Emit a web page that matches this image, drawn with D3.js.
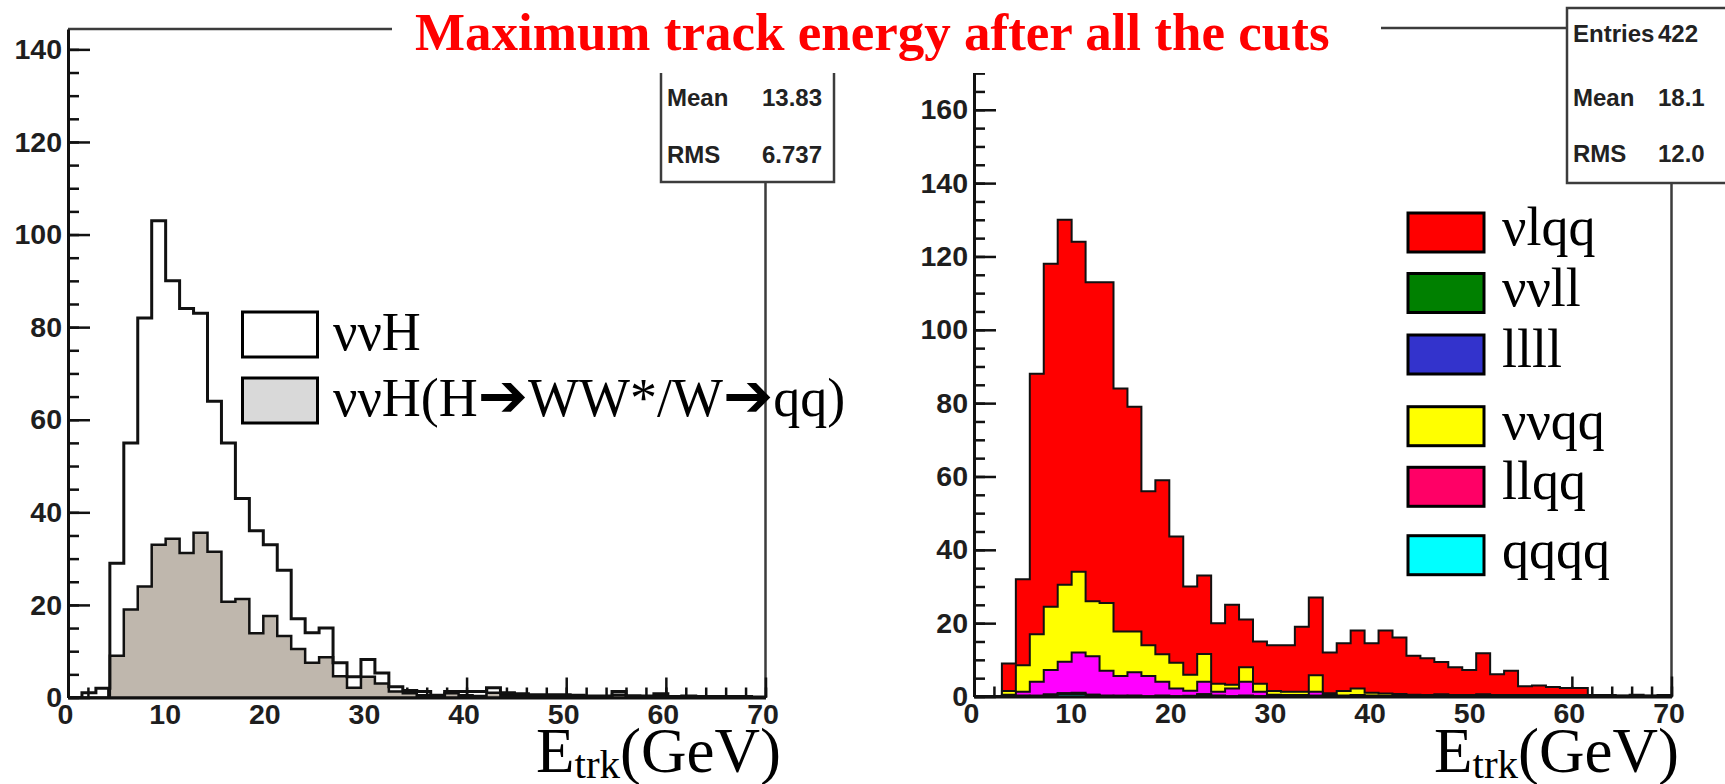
<!DOCTYPE html>
<html>
<head>
<meta charset="utf-8">
<script src="https://cdn.jsdelivr.net/npm/d3@7"></script>
<style>
  body { margin: 0; background: #fff; }
  svg { display: block; }
  .tick text { font-family: 'Liberation Sans', Arial, sans-serif; font-weight: bold; font-size: 28.5px; fill: #1e1e1e; }
  .stat { font-family: 'Liberation Sans', Arial, sans-serif; font-weight: bold; font-size: 24px; fill: #222; }
  .leg { font-family: 'Liberation Serif', 'Times New Roman', serif; font-size: 54px; fill: #000; }
</style>
</head>
<body>
<div id="chart"></div>
<script>
// histogram binning: 50 bins between 0 and 70 GeV
let xMin = 0
let xMax = 70
let nBins = 50
let edges = d3.range(nBins + 1).map(i => xMin + i * (xMax - xMin) / nBins)

// left panel: nu nu H, all and H->WW*/W->qq
let vvHAll = [0, 1, 2, 29, 55, 82, 103, 90, 84, 83,
  64, 55, 43, 36, 33, 27.5, 17, 14, 15, 7.5,
  4.5, 8.2, 5.3, 2.3, 1.5, 1.3, 0.5, 1.3, 1.3, 1.3,
  2.1, 1, 0.8, 0.6, 0.6, 0.6, 0.5, 0.3, 0.3, 1.3,
  0.4, 0.3, 0.8, 0.2, 0.3, 0.2, 0.2, 0.2, 0.2, 0.1]
let vvHWW = [0, 0, 0, 9, 19, 24, 33, 34.3, 31.2, 35.6,
  31.5, 20.7, 21.3, 13.9, 17.6, 13.3, 10.5, 7.5, 8.7, 4.6,
  2.1, 4.5, 3, 1.3, 0.9, 0.5, 0.2, 0.9, 0.5, 0.3,
  1, 0.5, 0.3, 0.2, 0.2, 0.2, 0.1, 0.1, 0.1, 0.6,
  0.1, 0.1, 0.3, 0.1, 0.1, 0, 0.1, 0, 0.1, 0]

// right panel: backgrounds, stacked
let qqqq = [0, 0, 0, 0, 0, 0.3, 0.6, 0.6, 0.3, 0,
  0, 0, 0, 0, 0, 0, 0.3, 0, 0, 0,
  0, 0, 0, 0, 0, 0, 0, 0, 0, 0,
  0, 0, 0, 0, 0, 0, 0, 0, 0, 0,
  0, 0, 0, 0, 0, 0, 0, 0, 0, 0]
let llll = [0, 0, 0, 0, 0.2, 0, 0.3, 0, 0.2, 0,
  0.2, 0, 0, 0, 0, 0, 0.3, 0, 0, 0,
  0, 0, 0, 0, 0.2, 0, 0, 0, 0, 0,
  0, 0, 0, 0, 0, 0, 0, 0, 0, 0,
  0, 0, 0, 0, 0, 0, 0, 0, 0, 0]
let vvll = [0, 0, 0, 0.3, 0, 0.3, 0, 0.4, 0, 0.3,
  0, 0.3, 0, 0.3, 0, 0.2, 0, 0.3, 0, 0.3,
  0, 0.2, 0, 0.2, 0, 0.3, 0, 0.3, 0, 0,
  0.2, 0, 0, 0.2, 0, 0, 0.2, 0, 0, 0,
  0, 0, 0, 0, 0, 0, 0, 0, 0, 0]
let llqq = [0, 0, 0.5, 1, 3.8, 6.6, 8.6, 11, 10.5, 6.7,
  5.4, 6.3, 5.6, 3.7, 2.2, 1.4, 3.4, 1, 2.2, 3.7,
  1.3, 0.3, 0.4, 0.2, 1.1, 0.1, 0.3, 0.1, 0.3, 0.2,
  0.1, 0.1, 0.1, 0.1, 0.1, 0.1, 0.1, 0.1, 0.1, 0.1,
  0.1, 0.1, 0.1, 0.1, 0, 0, 0, 0, 0, 0]
let vvqq = [0, 0, 1, 7.2, 13, 17.3, 21, 22, 15, 18.5,
  12.1, 11.1, 8.4, 7.5, 7, 4.3, 7.6, 2.2, 1, 4,
  2.2, 1, 0.9, 0.9, 4.5, 0.5, 1.2, 1.8, 0.7, 0.6,
  0.4, 0.4, 0.3, 0.3, 0.3, 0.3, 0.3, 0.3, 0.3, 0.3,
  0.3, 0.3, 0.3, 0.3, 0.2, 0.2, 0.2, 0.2, 0.2, 0.2]
let vlqq = [0, 0, 7.5, 23.5, 71, 93.5, 99.5, 90, 87, 87.5,
  66.3, 61.3, 42, 47.5, 34.4, 24.1, 21.4, 16.5, 21.8, 13,
  11.5, 12.5, 12.7, 17.7, 21.2, 11.1, 13, 15.8, 13.5, 17.2,
  15.4, 10.6, 10, 8.8, 7.6, 6.8, 11.2, 5.7, 6.6, 2.4,
  2.6, 2.2, 1.9, 1.9, 0.2, 0.2, 0.1, 0.3, 0.1, 0.2]

let stackKeys = ['qqqq', 'llll', 'vvll', 'llqq', 'vvqq', 'vlqq']
let stackSeries = { qqqq, llll, vvll, llqq, vvqq, vlqq }
let stackColors = { qqqq: '#00ffff', llll: '#3333cc', vvll: '#007f00', llqq: '#ff00ff', vvqq: '#ffff00', vlqq: '#ff0000' }

let xTicks = [0, 10, 20, 30, 40, 50, 60, 70]
let yTicksLeft = [0, 20, 40, 60, 80, 100, 120, 140]
let yTicksRight = [0, 20, 40, 60, 80, 100, 120, 140, 160]

// legend labels, split around the arrows so the arrows can be drawn larger
let legendLeft = [['ννH'], ['ννH(H', '➔', 'WW*/W', '➔', 'qq)']]
let legendRight = [
  { label: 'νlqq', color: '#ff0000' },
  { label: 'ννll', color: '#008000' },
  { label: 'llll', color: '#3333cc' },
  { label: 'ννqq', color: '#ffff00' },
  { label: 'llqq', color: '#ff0066' },
  { label: 'qqqq', color: '#00ffff' }
]
let statsLeft = [['Mean', '13.83'], ['RMS', '6.737']]
let statsRight = [['Entries', '422'], ['Mean', '18.1'], ['RMS', '12.0']]

let width = 1725
let height = 784

let svg = d3.select('#chart')
  .append('svg')
  .attr('width', width)
  .attr('height', height)

let xL = d3.scaleLinear().domain([0, 70]).range([68, 765.5])
let yL = d3.scaleLinear().domain([0, 144.4]).range([697.5, 29])
let xR = d3.scaleLinear().domain([0, 70]).range([974, 1671.5])
let yR = d3.scaleLinear().domain([0, 182.3]).range([696.5, 28])

// step outline of a histogram, starting and ending on the baseline
function stepPath(values, x, y) {
  let pts = [[x(edges[0]), y(0)]]
  values.forEach((v, i) => {
    pts.push([x(edges[i]), y(v)])
    pts.push([x(edges[i + 1]), y(v)])
  })
  pts.push([x(edges[nBins]), y(0)])
  return d3.line()(pts)
}

function drawFrame(x, y) {
  svg.append('path')
    .attr('d', `M${x.range()[0]},${y.range()[1]}H${x.range()[1]}V${y.range()[0]}`)
    .attr('fill', 'none')
    .attr('stroke', '#3c3c3c')
    .attr('stroke-width', 2.5)
}

function drawAxes(x, y, yTicks) {
  let gy = svg.append('g').attr('transform', `translate(${x(0)},0)`)
  gy.call(d3.axisLeft(y).tickValues(yTicks).tickSize(-22).tickSizeOuter(0).tickPadding(6))
  gy.append('g').call(d3.axisLeft(y).tickValues(d3.range(0, y.domain()[1], 5)).tickSize(-11).tickFormat(''))
    .select('.domain').remove()

  let gx = svg.append('g').attr('transform', `translate(0,${y(0)})`)
  gx.call(d3.axisBottom(x).tickValues(xTicks).tickSize(-20).tickSizeOuter(0).tickPadding(6))
  gx.append('g').call(d3.axisBottom(x).tickValues(d3.range(0, 71, 2)).tickSize(-10).tickFormat(''))
    .select('.domain').remove()

  svg.selectAll('.domain').attr('stroke', '#111').attr('stroke-width', 3)
  svg.selectAll('.tick line').attr('stroke', '#111').attr('stroke-width', 2.5)
  gx.selectAll('.tick text').attr('dx', -3)
}

// ---------- left panel ----------
drawFrame(xL, yL)
drawAxes(xL, yL, yTicksLeft)

svg.append('path')
  .attr('d', stepPath(vvHWW, xL, yL) + 'Z')
  .attr('fill', '#bfb7ad')
  .attr('stroke', '#111')
  .attr('stroke-width', 2.5)

svg.append('path')
  .attr('d', stepPath(vvHAll, xL, yL))
  .attr('fill', 'none')
  .attr('stroke', '#111')
  .attr('stroke-width', 3)

// ---------- right panel ----------
drawFrame(xR, yR)
drawAxes(xR, yR, yTicksRight)

let rows = d3.range(nBins).map(i => {
  let row = {}
  stackKeys.forEach(k => { row[k] = stackSeries[k][i] })
  return row
})
let stacked = d3.stack().keys(stackKeys)(rows)

// like THStack: cumulative histograms drawn from the top one down
stacked.slice().reverse().forEach(layer => {
  svg.append('path')
    .attr('d', stepPath(layer.map(d => d[1]), xR, yR) + 'Z')
    .attr('fill', stackColors[layer.key])
    .attr('stroke', '#111')
    .attr('stroke-width', 2)
})

// ---------- legends ----------
legendLeft.forEach((parts, i) => {
  let top = [312, 378][i]
  svg.append('rect')
    .attr('x', 242.5).attr('y', top)
    .attr('width', 75).attr('height', 45)
    .attr('fill', i === 0 ? '#fff' : '#d9d9d9')
    .attr('stroke', '#000').attr('stroke-width', 3)
  let t = svg.append('text')
    .attr('class', 'leg')
    .attr('x', 333).attr('y', top + 38)
  parts.forEach(p => {
    let s = t.append('tspan').text(p)
    if (p === '➔') s.attr('font-size', 60).attr('font-family', "'DejaVu Sans', sans-serif")
  })
})

let rightTops = [213, 273.5, 335, 406.7, 467.3, 535.7]
legendRight.forEach((d, i) => {
  svg.append('rect')
    .attr('x', 1408).attr('y', rightTops[i])
    .attr('width', 76).attr('height', 39)
    .attr('fill', d.color)
    .attr('stroke', '#000').attr('stroke-width', 3)
  svg.append('text')
    .attr('class', 'leg')
    .attr('x', 1502).attr('y', rightTops[i] + 32)
    .text(d.label)
})

// ---------- x titles ----------
function xTitle(x) {
  let t = svg.append('text')
    .attr('x', x).attr('y', 772)
    .attr('font-family', "'Liberation Serif', 'Times New Roman', serif")
    .attr('font-size', 63)
  t.append('tspan').text('E')
  t.append('tspan').attr('font-size', 41).attr('dy', 6).text('trk')
  t.append('tspan').attr('dy', -6).text('(GeV)')
}
xTitle(536)
xTitle(1434)

// ---------- stats boxes ----------
function statsBox(x0, y0, x1, y1, rows, valueX, anchor, lineYs) {
  svg.append('rect')
    .attr('x', x0).attr('y', y0)
    .attr('width', x1 - x0).attr('height', y1 - y0)
    .attr('fill', '#fff')
    .attr('stroke', '#3c3c3c').attr('stroke-width', 2.5)
  rows.forEach((r, i) => {
    svg.append('text').attr('class', 'stat')
      .attr('x', x0 + 6).attr('y', lineYs[i]).text(r[0])
    svg.append('text').attr('class', 'stat')
      .attr('x', valueX).attr('y', lineYs[i])
      .attr('text-anchor', anchor).text(r[1])
  })
}
statsBox(661, -20, 834, 182, statsLeft, 822, 'end', [105.5, 162.5])
statsBox(1567, 8, 1780, 183, statsRight, 1658, 'start', [41.5, 106, 161.5])

// ---------- title ----------
svg.append('rect')
  .attr('x', 392).attr('y', 0)
  .attr('width', 1381 - 392).attr('height', 73)
  .attr('fill', '#fff')

svg.append('text')
  .attr('x', 415).attr('y', 50)
  .attr('font-family', "'Liberation Serif', 'Times New Roman', serif")
  .attr('font-weight', 'bold')
  .attr('font-size', 53)
  .attr('fill', '#ff0000')
  .text('Maximum track energy after all the cuts')
</script>
</body>
</html>
